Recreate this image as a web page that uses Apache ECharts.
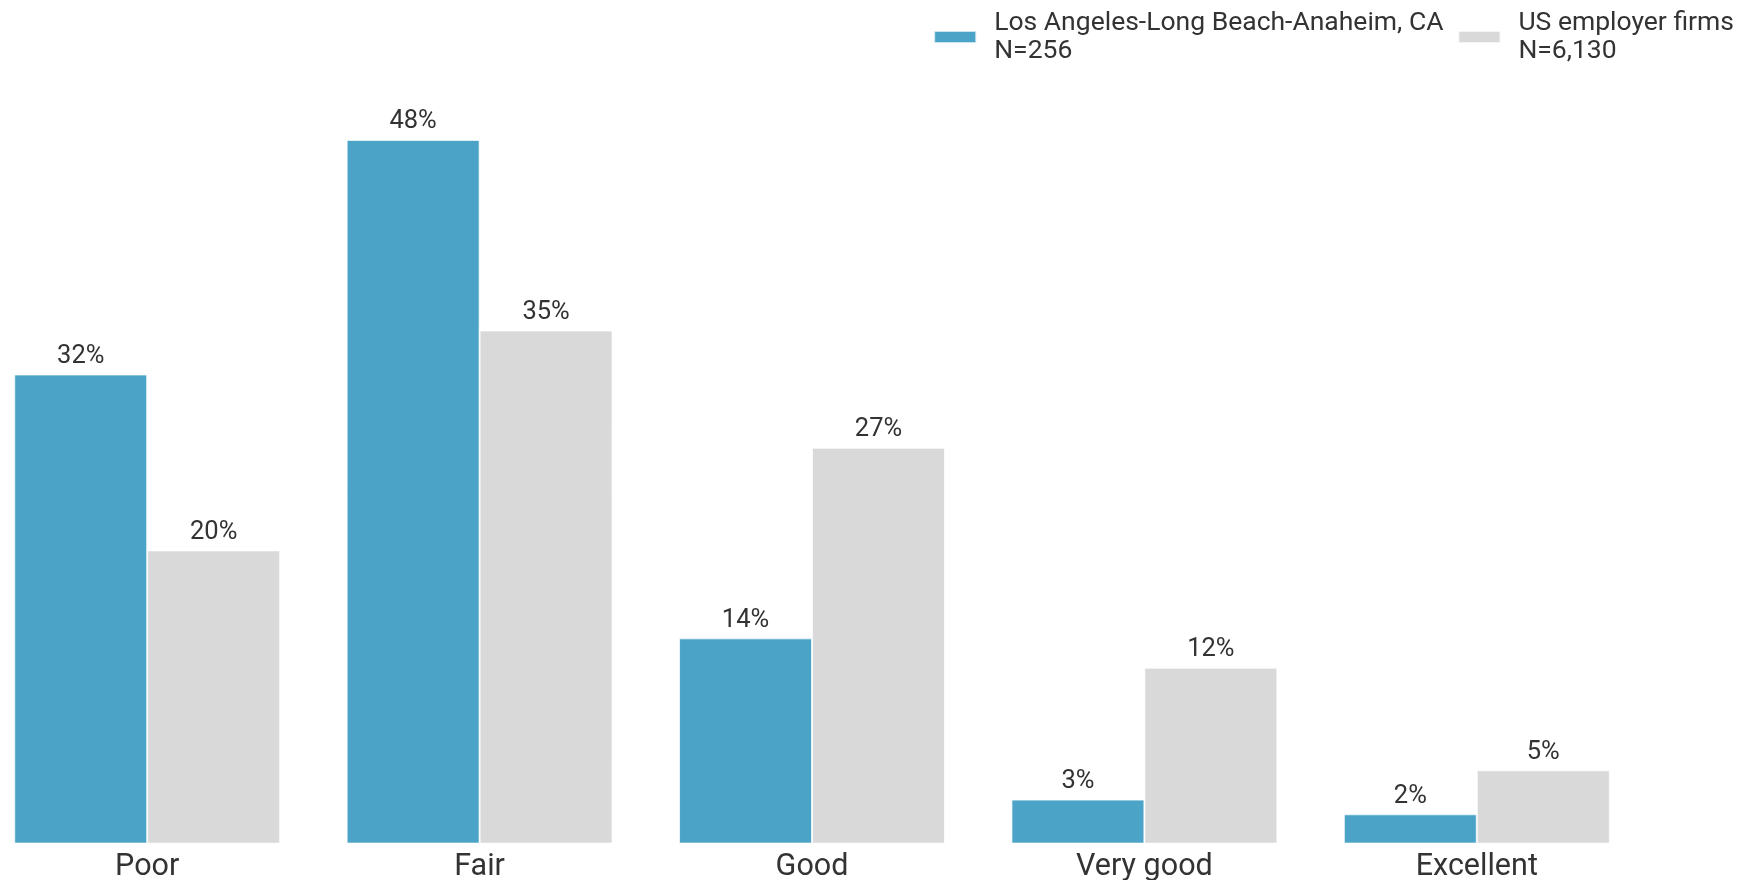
<!DOCTYPE html>
<html>
<head>
<meta charset="utf-8">
<script src="https://cdn.jsdelivr.net/npm/echarts@6/dist/echarts.min.js"></script>
<style>
html,body{margin:0;padding:0;background:#fff;}
#chart{width:1752px;height:880px;}
</style>
</head>
<body>
<div id="chart"></div>
<script>
const categories = ['Poor', 'Fair', 'Good', 'Very good', 'Excellent'];
const seriesNames = ['Los Angeles-Long Beach-Anaheim, CA\nN=256', 'US employer firms\nN=6,130'];
const laValues = [32, 48, 14, 3, 2];
const usValues = [20, 35, 27, 12, 5];

const chart = echarts.init(document.getElementById('chart'), null, {renderer: 'canvas'});
const textColor = '#333333';
const labelCfg = {
  show: true,
  position: 'top',
  distance: 5,
  color: textColor,
  fontFamily: 'Roboto',
  fontSize: 25.5,
  formatter: p => p.value + '%'
};
chart.setOption({
  animation: false,
  backgroundColor: '#ffffff',
  textStyle: {fontFamily: 'Roboto'},
  legend: {
    right: 13,
    top: 4,
    itemWidth: 42,
    itemHeight: 12,
    itemGap: 14,
    icon: 'rect',
    textStyle: {
      color: textColor,
      fontFamily: 'Roboto',
      fontSize: 26.5,
      lineHeight: 28,
      padding: [0, 0, 0, 13]
    },
    data: seriesNames
  },
  grid: {
    left: -19,
    right: 109,
    top: 110.6,
    bottom: 36.4,
    containLabel: false,
    outerBoundsMode: 'none'
  },
  xAxis: {
    type: 'category',
    data: categories,
    axisLine: {show: false},
    axisTick: {show: false},
    axisLabel: {
      color: textColor,
      fontFamily: 'Roboto',
      fontSize: 30.5,
      margin: 8
    }
  },
  yAxis: {
    type: 'value',
    min: 0,
    max: 50,
    show: false,
    splitLine: {show: false}
  },
  series: [
    {
      name: seriesNames[0],
      type: 'bar',
      data: laValues,
      barGap: '0%',
      barCategoryGap: '20%',
      itemStyle: {color: '#4BA4C8', borderColor: 'rgba(255,255,255,0.7)', borderWidth: 1},
      label: labelCfg
    },
    {
      name: seriesNames[1],
      type: 'bar',
      data: usValues,
      barGap: '0%',
      barCategoryGap: '20%',
      itemStyle: {color: '#D9D9D9', borderColor: 'rgba(255,255,255,0.7)', borderWidth: 1},
      label: labelCfg
    }
  ]
});
</script>
</body>
</html>
